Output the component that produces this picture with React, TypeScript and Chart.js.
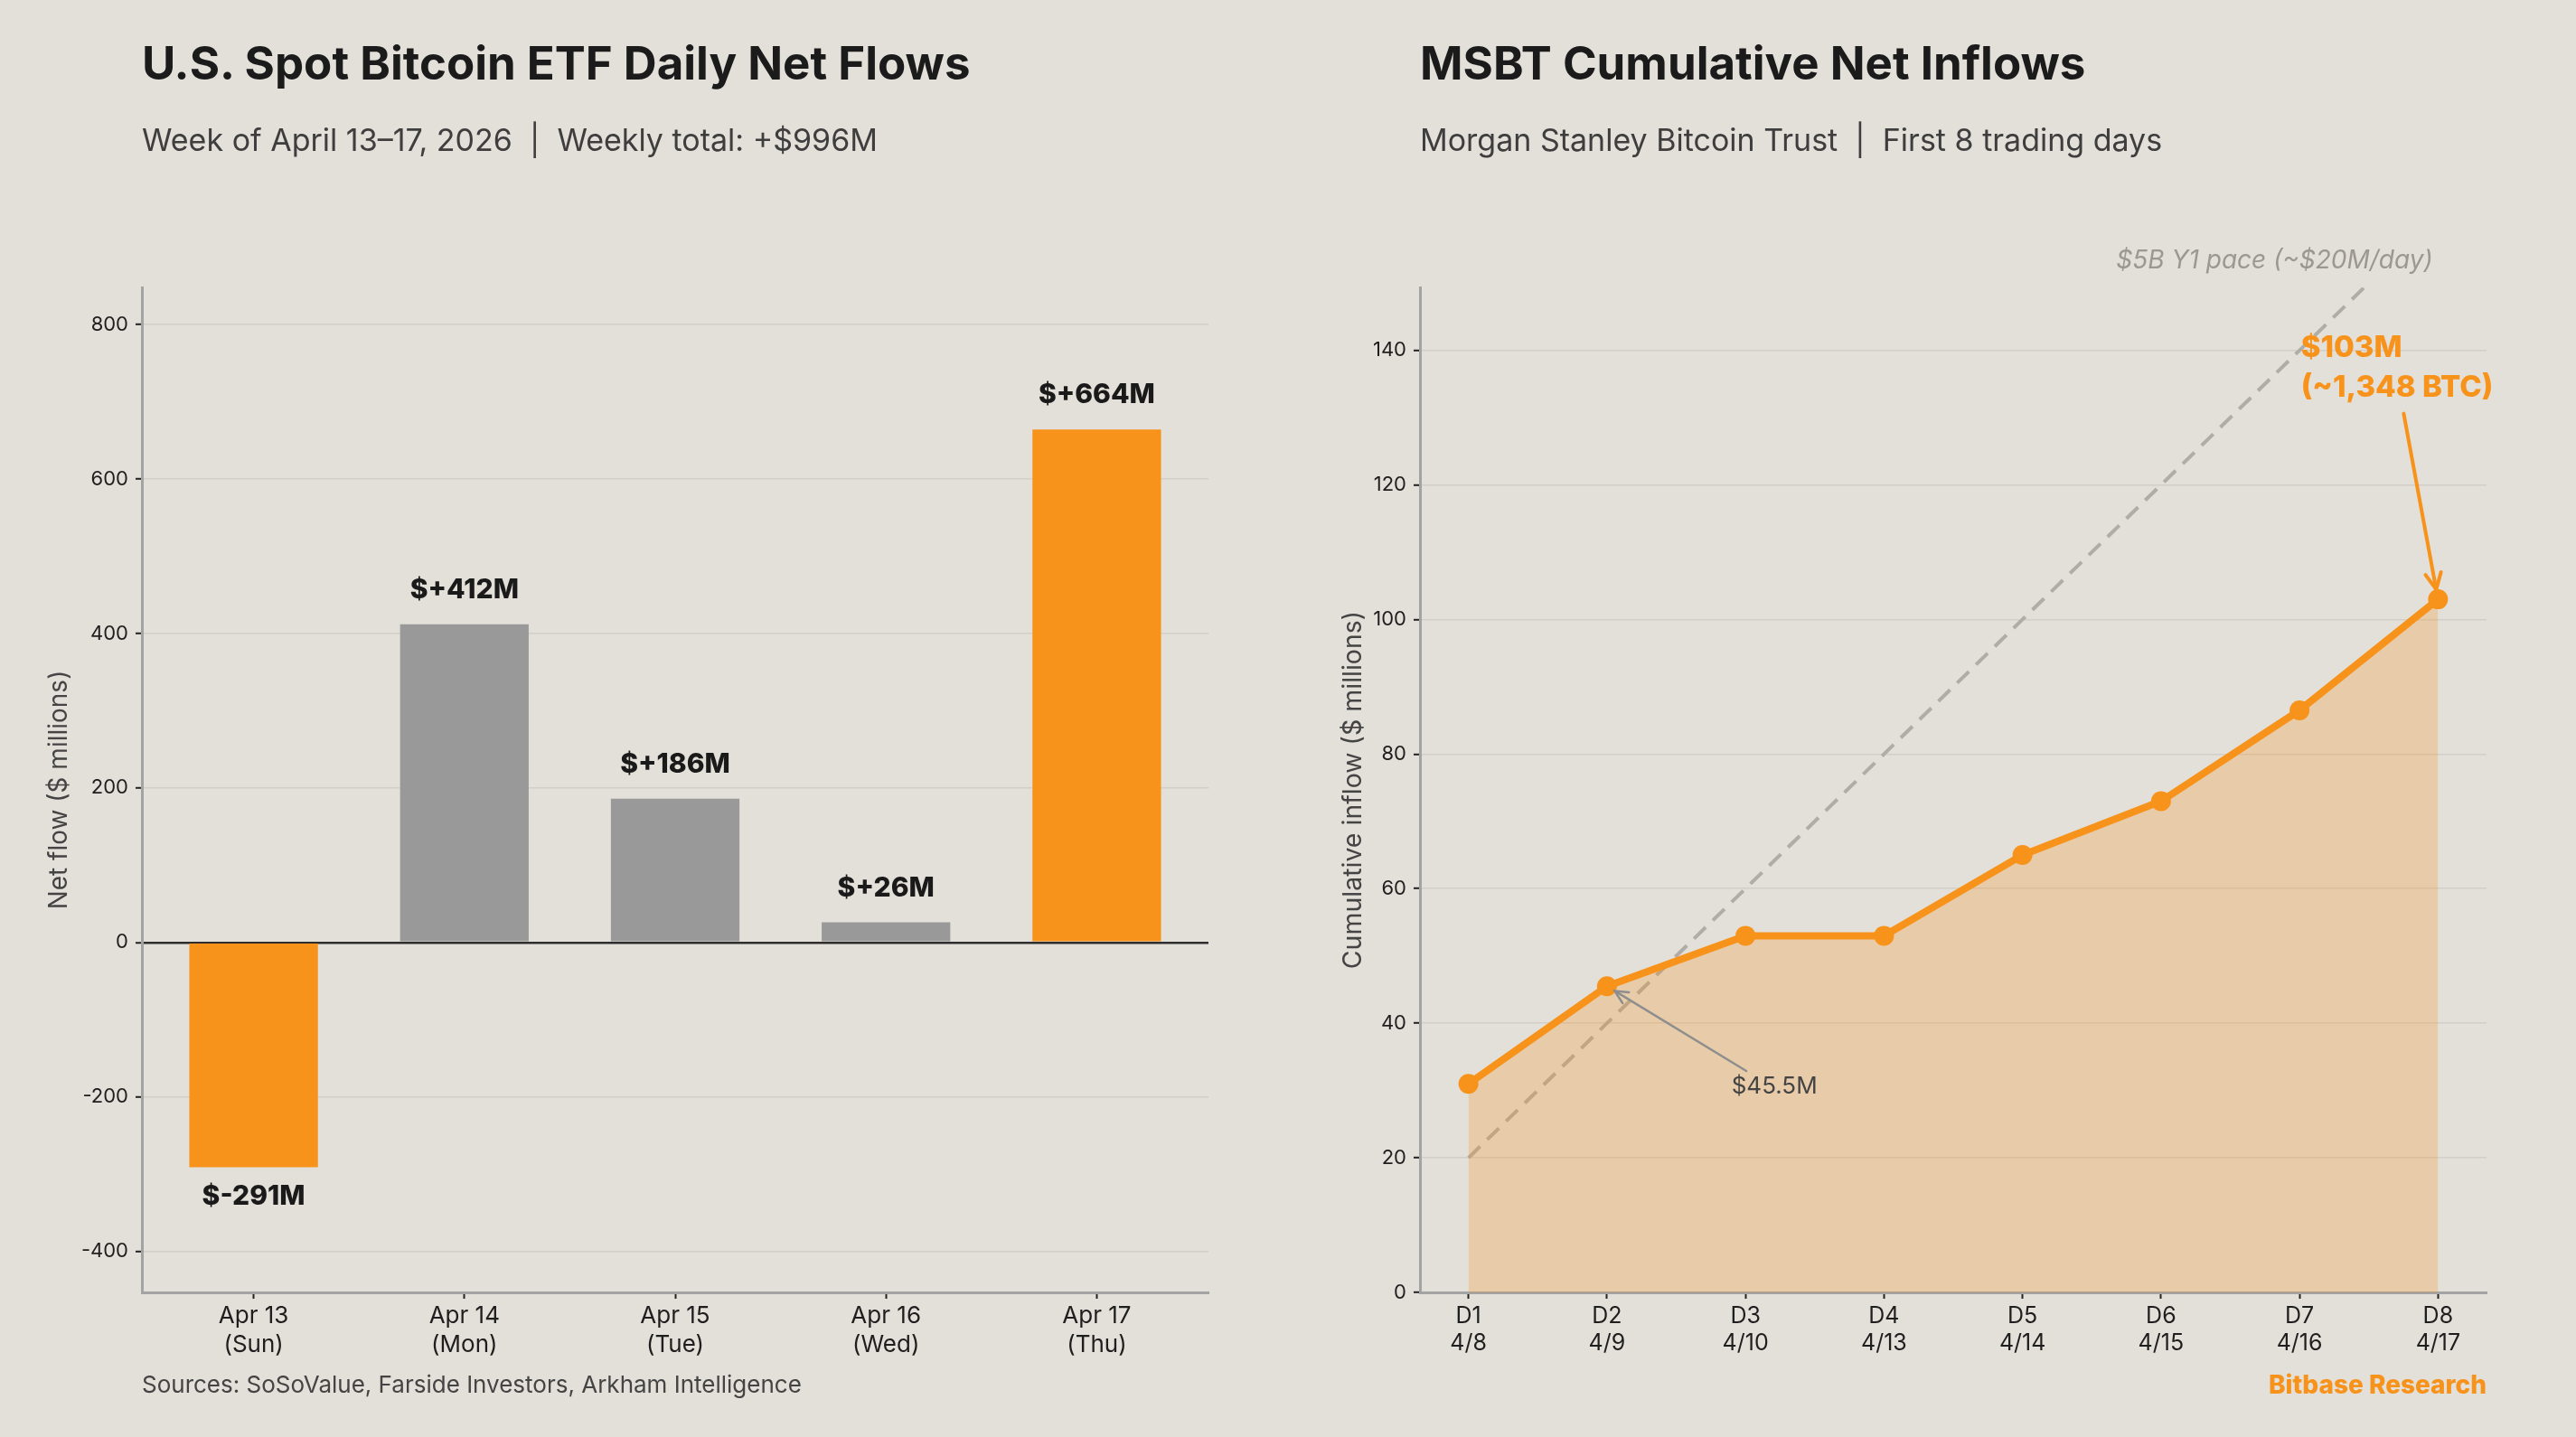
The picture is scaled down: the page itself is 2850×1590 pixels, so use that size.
import React, { useEffect, useRef } from "react";
import { Chart, registerables } from "chart.js";

Chart.register(...registerables);

const FONT = "Inter, 'Open Sans', 'DejaVu Sans', sans-serif";
const BG = "#E3DFD9";
const ORANGE = "#F7921A";
const GRAY_BAR = "#999999";
const GRID = "#D3CEC8";
const SPINE = "#A3A3A3";
const TICK_TEXT = "#1E1E1E";

// ---- Left chart data ----
const flowDates = ["Apr 13", "Apr 14", "Apr 15", "Apr 16", "Apr 17"];
const flowWeekdays = ["(Sun)", "(Mon)", "(Tue)", "(Wed)", "(Thu)"];
const flowValues = [-291, 412, 186, 26, 664];
const flowTicks = [-400, -200, 0, 200, 400, 600, 800];

// ---- Right chart data ----
const msbtDays = ["D1", "D2", "D3", "D4", "D5", "D6", "D7", "D8"];
const msbtDates = ["4/8", "4/9", "4/10", "4/13", "4/14", "4/15", "4/16", "4/17"];
const msbtCumulative = [31, 45.5, 53, 53, 65, 73, 86.5, 103];
const paceValues = [20, 40, 60, 80, 100, 120, 140, 160];
const msbtTicks = [0, 20, 40, 60, 80, 100, 120, 140];

function drawArrow(ctx: CanvasRenderingContext2D, x1: number, y1: number, x2: number, y2: number, color: string, width: number, head: number) {
  const ang = Math.atan2(y2 - y1, x2 - x1);
  ctx.save();
  ctx.strokeStyle = color;
  ctx.lineWidth = width;
  ctx.lineCap = "round";
  ctx.beginPath();
  ctx.moveTo(x1, y1);
  ctx.lineTo(x2, y2);
  ctx.stroke();
  ctx.beginPath();
  ctx.moveTo(x2 - head * Math.cos(ang - 0.45), y2 - head * Math.sin(ang - 0.45));
  ctx.lineTo(x2, y2);
  ctx.lineTo(x2 - head * Math.cos(ang + 0.45), y2 - head * Math.sin(ang + 0.45));
  ctx.stroke();
  ctx.restore();
}

const barLabelPlugin = {
  id: "barLabels",
  afterDatasetsDraw(chart: any) {
    const ctx = chart.ctx as CanvasRenderingContext2D;
    const meta = chart.getDatasetMeta(0);
    ctx.save();
    ctx.font = `800 30px ${FONT}`;
    ctx.fillStyle = "#1A1A1A";
    ctx.textAlign = "center";
    ctx.textBaseline = "middle";
    meta.data.forEach((bar: any, i: number) => {
      const v = flowValues[i];
      const label = `$${v >= 0 ? "+" : ""}${v}M`;
      const y = v >= 0 ? bar.y - 38 : bar.y + 32;
      ctx.fillText(label, bar.x, y);
    });
    ctx.restore();
  },
};

const msbtAnnotationPlugin = {
  id: "msbtAnnotations",
  afterDatasetsDraw(chart: any) {
    const ctx = chart.ctx as CanvasRenderingContext2D;
    const xs = chart.scales.x;
    const ys = chart.scales.y;
    const px = (v: number) => xs.getPixelForValue(v);
    const py = (v: number) => ys.getPixelForValue(v);
    ctx.save();
    // pace label
    ctx.font = `italic 400 28px ${FONT}`;
    ctx.fillStyle = "#9C9791";
    ctx.textAlign = "center";
    ctx.textBaseline = "middle";
    ctx.fillText("$5B Y1 pace (~$20M/day)", px(5.82), py(153.3));

    // $45.5M annotation
    const d2x = px(1), d2y = py(msbtCumulative[1]);
    const t1x = px(2.006), t1y = py(32.9);
    const a1 = Math.atan2(t1y - d2y, t1x - d2x);
    drawArrow(ctx, t1x, t1y, d2x + 10 * Math.cos(a1), d2y + 10 * Math.sin(a1), "#8E8E8E", 2.5, 16);
    ctx.font = `400 26px ${FONT}`;
    ctx.fillStyle = "#444444";
    ctx.fillText("$45.5M", px(2.209), py(30.6));

    // $103M annotation
    const d8x = px(7), d8y = py(msbtCumulative[7]);
    const t2x = px(6.752), t2y = py(130.6);
    const a2 = Math.atan2(t2y - d8y, t2x - d8x);
    drawArrow(ctx, t2x, t2y, d8x + 11 * Math.cos(a2), d8y + 11 * Math.sin(a2), ORANGE, 4, 20);
    ctx.font = `800 33px ${FONT}`;
    ctx.fillStyle = ORANGE;
    ctx.textAlign = "left";
    ctx.fillText("$103M", px(6.01), py(140.3));
    ctx.fillText("(~1,348 BTC)", px(6.01), py(134.4));
    ctx.restore();
  },
};

export default function App() {
  const leftRef = useRef<HTMLCanvasElement>(null);
  const rightRef = useRef<HTMLCanvasElement>(null);

  useEffect(() => {
    const minV = Math.min(...flowValues);
    const maxV = Math.max(...flowValues);
    const barColors = flowValues.map((v) => (v === minV || v === maxV ? ORANGE : GRAY_BAR));

    const left = new Chart(leftRef.current!, {
      type: "bar",
      data: {
        datasets: [
          {
            data: flowValues.map((v, i) => ({ x: i, y: v })),
            backgroundColor: barColors,
            borderWidth: 0,
            barPercentage: 0.61,
            categoryPercentage: 1,
          },
        ],
      },
      options: {
        responsive: false,
        animation: false,
        devicePixelRatio: 1,
        layout: { padding: { left: 27, right: 88, top: 318, bottom: 60 } },
        plugins: { legend: { display: false }, tooltip: { enabled: false } },
        scales: {
          x: {
            type: "linear",
            min: -0.53,
            max: 4.53,
            offset: false,
            afterBuildTicks: (s: any) => {
              s.ticks = flowDates.map((_, i) => ({ value: i }));
            },
            afterFit: (s: any) => {
              s.height = 100;
            },
            ticks: {
              callback: (v: any) => [flowDates[v], flowWeekdays[v]],
              font: { family: FONT, size: 26 },
              color: TICK_TEXT,
              padding: 4,
              maxRotation: 0,
              autoSkip: false,
            },
            grid: { offset: false, drawOnChartArea: false, drawTicks: true, tickLength: 7, tickColor: "#222", tickWidth: 2 },
            border: { color: SPINE, width: 3 },
          },
          y: {
            min: -453,
            max: 848,
            afterBuildTicks: (s: any) => {
              s.ticks = flowTicks.map((v) => ({ value: v }));
            },
            afterFit: (s: any) => {
              s.width = 130;
            },
            ticks: { font: { family: FONT, size: 22 }, color: TICK_TEXT, padding: 8 },
            grid: {
              color: (c: any) => (c.tick && c.tick.value === 0 ? "#2E2E2E" : GRID),
              lineWidth: (c: any) => (c.tick && c.tick.value === 0 ? 2.5 : 1.6),
              tickLength: 7,
              tickColor: "#222",
              tickWidth: 2,
            },
            border: { color: SPINE, width: 3 },
            title: {
              display: true,
              text: "Net flow ($ millions)",
              font: { family: FONT, size: 28 },
              color: "#444",
              padding: { top: 22, bottom: 0 },
            },
          },
        },
      },
      plugins: [barLabelPlugin],
    } as any);

    const right = new Chart(rightRef.current!, {
      type: "line",
      data: {
        datasets: [
          {
            data: msbtCumulative.map((v, i) => ({ x: i, y: v })),
            borderColor: ORANGE,
            borderWidth: 8,
            pointRadius: 11,
            pointBackgroundColor: ORANGE,
            pointBorderWidth: 0,
            fill: "origin",
            backgroundColor: "rgba(247,146,26,0.26)",
            tension: 0,
          },
          {
            data: paceValues.map((v, i) => ({ x: i, y: v })),
            borderColor: "#B0ACA6",
            borderWidth: 4,
            borderDash: [18, 11],
            pointRadius: 0,
            fill: false,
            tension: 0,
          },
        ],
      },
      options: {
        responsive: false,
        animation: false,
        devicePixelRatio: 1,
        layout: { padding: { left: 26, right: 99, top: 318, bottom: 60 } },
        plugins: { legend: { display: false }, tooltip: { enabled: false } },
        scales: {
          x: {
            type: "linear",
            min: -0.35,
            max: 7.35,
            offset: false,
            afterBuildTicks: (s: any) => {
              s.ticks = msbtDays.map((_, i) => ({ value: i }));
            },
            afterFit: (s: any) => {
              s.height = 100;
            },
            ticks: {
              callback: (v: any) => [msbtDays[v], msbtDates[v]],
              font: { family: FONT, size: 25 },
              color: TICK_TEXT,
              padding: 4,
              maxRotation: 0,
              autoSkip: false,
            },
            grid: { offset: false, drawOnChartArea: false, drawTicks: true, tickLength: 7, tickColor: "#222", tickWidth: 2 },
            border: { color: SPINE, width: 3 },
          },
          y: {
            min: 0,
            max: 149.35,
            afterBuildTicks: (s: any) => {
              s.ticks = msbtTicks.map((v) => ({ value: v }));
            },
            afterFit: (s: any) => {
              s.width = 120;
            },
            ticks: { font: { family: FONT, size: 22 }, color: TICK_TEXT, padding: 8 },
            grid: { color: GRID, lineWidth: 1.6, tickLength: 7, tickColor: "#222", tickWidth: 2 },
            border: { color: SPINE, width: 3 },
            title: {
              display: true,
              text: "Cumulative inflow ($ millions)",
              font: { family: FONT, size: 28.5 },
              color: "#444",
              padding: { top: 29, bottom: 0 },
            },
          },
        },
      },
      plugins: [msbtAnnotationPlugin],
    } as any);

    return () => {
      left.destroy();
      right.destroy();
    };
  }, []);

  const title: React.CSSProperties = {
    position: "absolute",
    fontSize: 51,
    lineHeight: 1,
    fontWeight: 700,
    color: "#1B1B1B",
    whiteSpace: "pre",
    top: 44,
  };
  const sub: React.CSSProperties = {
    position: "absolute",
    fontSize: 34,
    lineHeight: 1,
    fontWeight: 400,
    color: "#3E3E3E",
    whiteSpace: "pre",
    top: 138,
  };

  return (
    <div
      style={{
        position: "absolute",
        left: 0,
        top: 0,
        width: 2850,
        height: 1590,
        background: BG,
        overflow: "hidden",
        fontFamily: FONT,
      }}
    >
      <canvas ref={leftRef} width={1425} height={1590} style={{ position: "absolute", left: 0, top: 0 }} />
      <canvas ref={rightRef} width={1425} height={1590} style={{ position: "absolute", left: 1425, top: 0 }} />
      <div style={{ ...title, left: 157 }}>U.S. Spot Bitcoin ETF Daily Net Flows</div>
      <div style={{ ...sub, left: 157 }}>{"Week of April 13–17, 2026  |  Weekly total: +$996M"}</div>
      <div style={{ ...title, left: 1571 }}>MSBT Cumulative Net Inflows</div>
      <div style={{ ...sub, left: 1571 }}>{"Morgan Stanley Bitcoin Trust  |  First 8 trading days"}</div>
      <div
        style={{
          position: "absolute",
          left: 157,
          top: 1519,
          fontSize: 26,
          lineHeight: 1,
          color: "#444",
          whiteSpace: "pre",
        }}
      >
        Sources: SoSoValue, Farside Investors, Arkham Intelligence
      </div>
      <div
        style={{
          position: "absolute",
          right: 99,
          top: 1518,
          fontSize: 28,
          lineHeight: 1,
          fontWeight: 800,
          color: ORANGE,
          whiteSpace: "pre",
        }}
      >
        Bitbase Research
      </div>
    </div>
  );
}
